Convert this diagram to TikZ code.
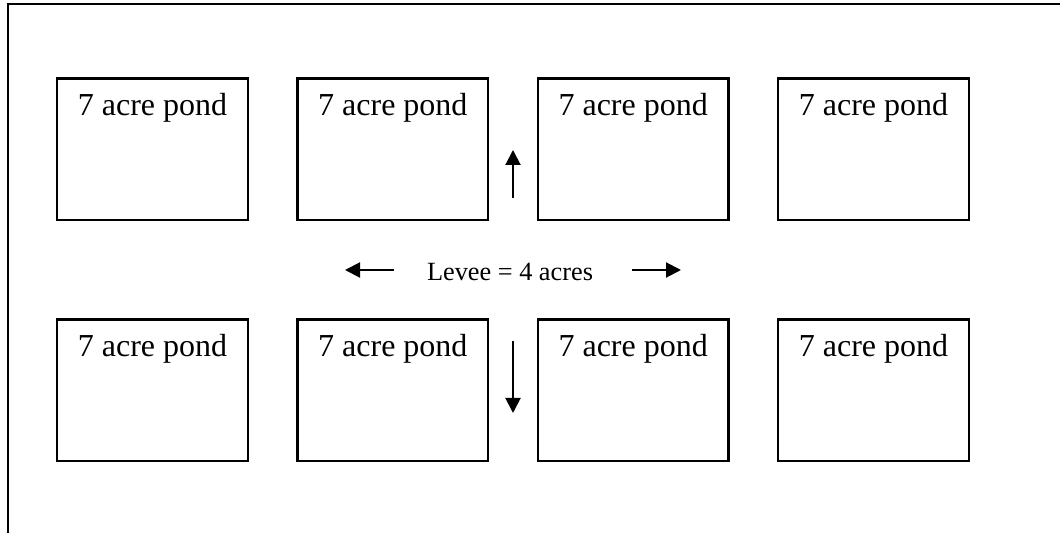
\documentclass[tikz,border=0pt]{standalone}
\usepackage{fontspec}
\setmainfont{Liberation Serif}
\usetikzlibrary{positioning, arrows.meta}

\tikzset{
  pond/.style={draw, line width=1.1pt, minimum width=95.4pt, minimum height=70.9pt,
    inner sep=0pt, label={[anchor=base, yshift=-19pt, font=\fontsize{16}{19}\selectfont]north:7 acre pond}},
  flow/.style={line width=1pt, -{Triangle[length=7.5pt, width=7.5pt]}}
}

\begin{document}
\begin{tikzpicture}[node distance=23.67pt]

    \useasboundingbox (0,0) rectangle (530pt,-266.5pt);

    % Frame
    \draw[line width=1pt] (4pt,-266.5pt) -- (4pt,-2pt) -- (530pt,-2pt);

    % Define nodes
    \node[pond] (p11) at (76.25pt,-74.75pt) {};
    \node[pond, right=of p11] (p12) {};
    \node[pond, right=of p12] (p13) {};
    \node[pond, right=of p13] (p14) {};

    \node[pond, below=48.5pt of p11] (p21) {};
    \node[pond, right=of p21] (p22) {};
    \node[pond, right=of p22] (p23) {};
    \node[pond, right=of p23] (p24) {};

    % Levee
    \node[font=\fontsize{13.15}{16}\selectfont, inner sep=0pt] (levee) at (255pt,-136pt) {Levee = 4 acres};

    % Arrow ends
    \coordinate (lt) at (197pt,-135pt);
    \coordinate (lh) at (172.5pt,-135pt);
    \coordinate (rt) at (316pt,-135pt);
    \coordinate (rh) at (340.5pt,-135pt);
    \coordinate (ut) at (256.5pt,-99pt);
    \coordinate (uh) at (256.5pt,-75pt);
    \coordinate (dt) at (256.5pt,-170.5pt);
    \coordinate (dh) at (256.5pt,-206.5pt);

    % Connect the nodes
    \draw[flow] (lt) -- (lh);
    \draw[flow] (rt) -- (rh);
    \draw[flow] (ut) -- (uh);
    \draw[flow] (dt) -- (dh);

\end{tikzpicture}
\end{document}
